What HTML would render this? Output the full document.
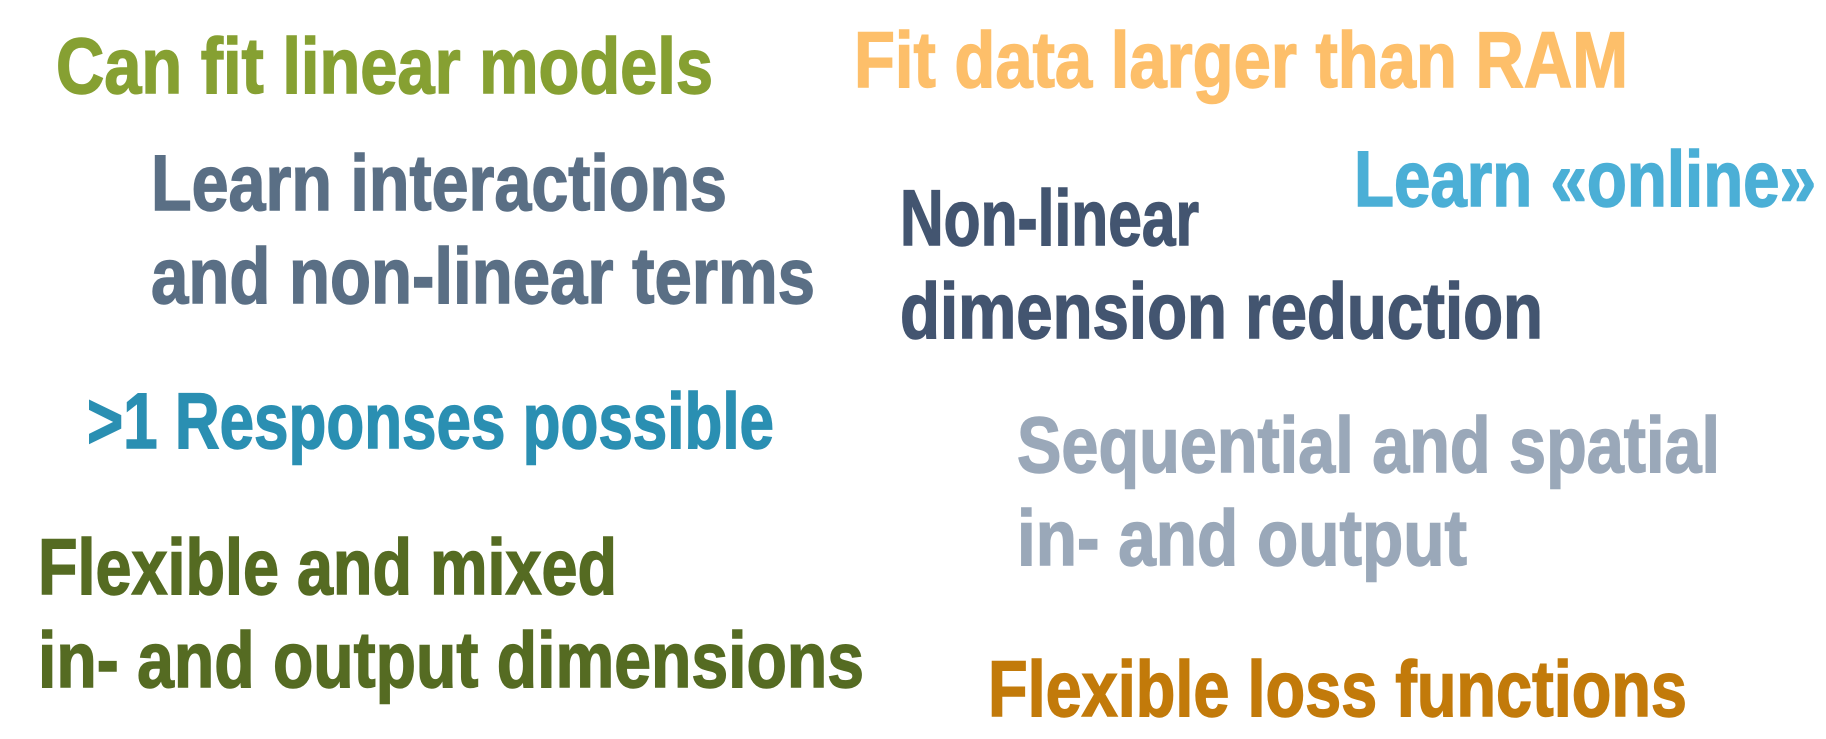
<!DOCTYPE html>
<html><head><meta charset="utf-8"><style>
html,body{margin:0;padding:0;background:#fff;}
svg{display:block}
text{font-family:"Liberation Sans Narrow","Liberation Sans",sans-serif;font-weight:bold;font-size:79px;stroke-width:1.5px;}
</style></head><body>
<svg width="1826" height="739" viewBox="0 0 1826 739" xmlns="http://www.w3.org/2000/svg">
<rect width="1826" height="739" fill="#fff"/>
<text x="56" y="93" textLength="657" lengthAdjust="spacingAndGlyphs" fill="#86a032" stroke="#86a032">Can fit linear models</text>
<text x="854" y="87" textLength="774" lengthAdjust="spacingAndGlyphs" fill="#fdbf6a" stroke="#fdbf6a">Fit data larger than RAM</text>
<text x="151" y="210" textLength="576" lengthAdjust="spacingAndGlyphs" fill="#5a6f85" stroke="#5a6f85">Learn interactions</text>
<text x="151" y="303" textLength="664" lengthAdjust="spacingAndGlyphs" fill="#5a6f85" stroke="#5a6f85">and non-linear terms</text>
<text x="1354" y="206" textLength="462" lengthAdjust="spacingAndGlyphs" fill="#4bafd6" stroke="#4bafd6">Learn «online»</text>
<text x="900" y="245" textLength="299" lengthAdjust="spacingAndGlyphs" fill="#435570" stroke="#435570">Non-linear</text>
<text x="900" y="338" textLength="643" lengthAdjust="spacingAndGlyphs" fill="#435570" stroke="#435570">dimension reduction</text>
<text x="87" y="448" textLength="687" lengthAdjust="spacingAndGlyphs" fill="#2a8fb2" stroke="#2a8fb2">&gt;1 Responses possible</text>
<text x="1017" y="472" textLength="703" lengthAdjust="spacingAndGlyphs" fill="#9aa8b9" stroke="#9aa8b9">Sequential and spatial</text>
<text x="1017" y="565" textLength="450" lengthAdjust="spacingAndGlyphs" fill="#9aa8b9" stroke="#9aa8b9">in- and output</text>
<text x="38" y="594" textLength="579" lengthAdjust="spacingAndGlyphs" fill="#556b22" stroke="#556b22">Flexible and mixed</text>
<text x="38" y="687" textLength="826" lengthAdjust="spacingAndGlyphs" fill="#556b22" stroke="#556b22">in- and output dimensions</text>
<text x="988" y="716" textLength="699" lengthAdjust="spacingAndGlyphs" fill="#c27a0a" stroke="#c27a0a">Flexible loss functions</text>
</svg>
</body></html>
